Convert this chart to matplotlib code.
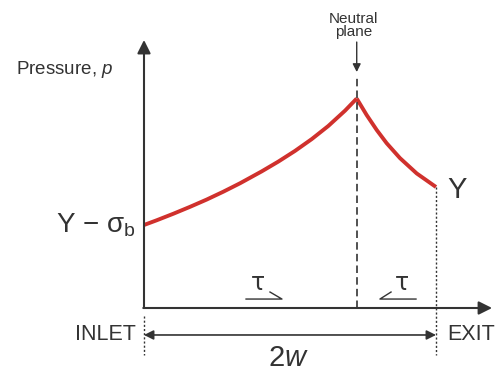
import matplotlib
matplotlib.use('Agg')
import matplotlib.pyplot as plt

plt.rcParams['font.family'] = ['Liberation Sans', 'DejaVu Sans']
plt.rcParams['mathtext.fontset'] = 'custom'
plt.rcParams['mathtext.rm'] = 'Liberation Sans'
plt.rcParams['mathtext.it'] = 'Liberation Sans:italic'

# friction hill, x in units of w (inlet 0, exit 2), pressure in units of Y
x_entry = [0.0, 0.087, 0.201, 0.315, 0.429, 0.543, 0.658, 0.806, 0.920,
           1.034, 1.149, 1.262, 1.377, 1.457]
p_entry = [0.686, 0.725, 0.779, 0.836, 0.896, 0.961, 1.031, 1.129, 1.210,
           1.298, 1.396, 1.504, 1.631, 1.731]
x_exit = [1.457, 1.525, 1.594, 1.662, 1.753, 1.868, 2.0]
p_exit = [1.731, 1.595, 1.471, 1.362, 1.239, 1.112, 1.0]

x_neutral = 1.457
x_inlet, x_outlet = 0.0, 2.0

RED = '#d0312d'
INK = '#333333'

fig = plt.figure(figsize=(4.96, 3.76), dpi=100)
ax = fig.add_axes([0, 0, 1, 1])
ax.set_xlim(-144 / 146, 352 / 146)
ax.set_ylim(-68 / 121, 308 / 121)
ax.axis('off')

# axes with arrows
ax.annotate('', xy=(0, 2.215), xytext=(0, 0),
            arrowprops=dict(arrowstyle='-|>', color=INK, lw=1.5,
                            mutation_scale=20, shrinkA=0, shrinkB=0))
ax.annotate('', xy=(2.384, 0), xytext=(-0.005, 0),
            arrowprops=dict(arrowstyle='-|>', color=INK, lw=1.5,
                            mutation_scale=20, shrinkA=0, shrinkB=0))

# pressure curve
ax.plot(x_entry, p_entry, color=RED, lw=2.8, solid_capstyle='butt',
        solid_joinstyle='round')
ax.plot(x_exit, p_exit, color=RED, lw=2.8, solid_capstyle='butt',
        solid_joinstyle='round')

# neutral plane
ax.plot([x_neutral, x_neutral], [0, 1.9], color=INK, lw=1.2,
        dashes=(4.5, 2.5))
ax.annotate('', xy=(x_neutral, 1.95), xytext=(x_neutral, 2.198),
            arrowprops=dict(arrowstyle='-|>', color=INK, lw=1.0,
                            mutation_scale=12, shrinkA=0, shrinkB=0))
ax.text(x_neutral - 0.02, 2.22, 'Neutral\nplane', fontsize=11, color=INK,
        ha='center', va='bottom', linespacing=0.95)

# inlet / exit dotted lines
ax.plot([x_inlet, x_inlet], [-0.066, -0.388], color=INK, lw=1.0,
        dashes=(1.5, 1.5))
ax.plot([x_outlet, x_outlet], [1.0, -0.388], color=INK, lw=1.0,
        dashes=(1.5, 1.5))

# 2w dimension
ax.annotate('', xy=(x_outlet, -0.223), xytext=(x_inlet, -0.223),
            arrowprops=dict(arrowstyle='<|-|>', color=INK, lw=1.2,
                            mutation_scale=14, shrinkA=0, shrinkB=0))
ax.text(0.99, -0.41, r'2$w$', fontsize=21, color=INK, ha='center', va='center')
ax.text(-0.055, -0.223, 'INLET', fontsize=15.5, color=INK, ha='right', va='center')
ax.text(2.075, -0.223, 'EXIT', fontsize=15.5, color=INK, ha='left', va='center')

# labels
ax.text(-0.877, 1.934, r'Pressure, $p$', fontsize=13.5, color=INK,
        ha='left', va='baseline')
ax.text(-0.055, 0.62, r'Y $-$ $\mathregular{\sigma_b}$', fontsize=20, color=INK,
        ha='right', va='baseline')
ax.text(2.075, 0.909, 'Y', fontsize=21, color=INK, ha='left', va='baseline')

# friction shear stress marks
for xa, xb, xh, xt in [(0.699, 0.945, 0.863, 0.781), (1.863, 1.616, 1.692, 1.767)]:
    ax.plot([xa, xb, xh], [0.074, 0.074, 0.132], color=INK, lw=1.0)
    ax.text(xt, 0.207, 'τ', fontsize=17, color=INK, ha='center', va='center',
            family='DejaVu Sans')

fig.savefig('out.png', dpi=100)
